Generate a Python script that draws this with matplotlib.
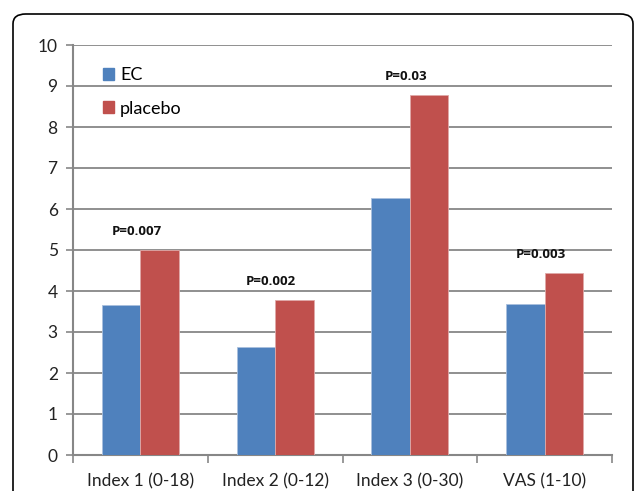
import matplotlib
matplotlib.use("Agg")
import matplotlib.pyplot as plt
import numpy as np
from matplotlib.patches import FancyBboxPatch, Rectangle

categories = ["Index 1 (0-18)", "Index 2 (0-12)", "Index 3 (0-30)", "VAS (1-10)"]
ec_values = [3.65, 2.63, 6.28, 3.69]
placebo_values = [5.0, 3.77, 8.77, 4.43]
p_labels = ["P=0.007", "P=0.002", "P=0.03", "P=0.003"]
series_names = ["EC", "placebo"]

plt.rcParams['font.family'] = ['Lato', 'DejaVu Sans']

W, H = 635, 491
fig = plt.figure(figsize=(W/100, H/100), dpi=100)

# rounded outer frame
frame = FancyBboxPatch((13/W, -0.1), (633-13)/W, (H-14)/H + 0.1,
                       boxstyle="round,pad=0,rounding_size=0.02",
                       transform=fig.transFigure, fill=False,
                       edgecolor="black", linewidth=1.2, clip_on=False)
fig.patches.append(frame)

ax = fig.add_axes([73/W, 1-455/H, (612-73)/W, (455-45)/H])

x = np.arange(len(categories))
bw = 0.286
blue = "#4F81BD"
red = "#C0504D"
ax.bar(x - bw/2, ec_values, bw, color=blue, edgecolor="#A9C0DE", linewidth=0.6, zorder=3)
ax.bar(x + bw/2, placebo_values, bw, color=red, edgecolor="#E0A9A8", linewidth=0.6, zorder=3)

for xi, v, lab in zip(x, placebo_values, p_labels):
    ax.text(xi - 0.03, v + 0.3, lab, ha="center", va="bottom", fontsize=9.5,
            fontweight="bold", color="#111111", family=["Open Sans", "DejaVu Sans"])

ax.set_xlim(-0.5, len(categories) - 0.5)
ax.set_ylim(0, 10)
ax.set_yticks(range(0, 11))
ax.yaxis.grid(True, color="#878787", linewidth=1.3, zorder=0)
ax.set_axisbelow(True)

ax.set_xticks(np.arange(-0.5, len(categories), 1.0))
ax.set_xticklabels([])
ax.set_xticks(x, minor=True)
ax.set_xticklabels(categories, minor=True)
ax.tick_params(axis="x", which="minor", length=0, pad=13, labelsize=12.5, colors="#222222")
ax.tick_params(axis="x", which="major", length=6, width=1.2, color="#878787")
ax.tick_params(axis="y", length=5, width=1.2, color="#878787", labelsize=12.5,
               labelcolor="#222222", pad=6)

for s in ["top", "right"]:
    ax.spines[s].set_visible(False)
for s in ["left", "bottom"]:
    ax.spines[s].set_color("#878787")
    ax.spines[s].set_linewidth(1.5)

# legend
handles = [Rectangle((0, 0), 1, 1, color=blue), Rectangle((0, 0), 1, 1, color=red)]
leg = ax.legend(handles, series_names, loc="upper left", bbox_to_anchor=(0.025, 0.985),
                frameon=False, fontsize=13, handlelength=0.6, handleheight=0.6,
                handletextpad=0.35, labelspacing=0.95)

fig.savefig("out.png", dpi=100)
